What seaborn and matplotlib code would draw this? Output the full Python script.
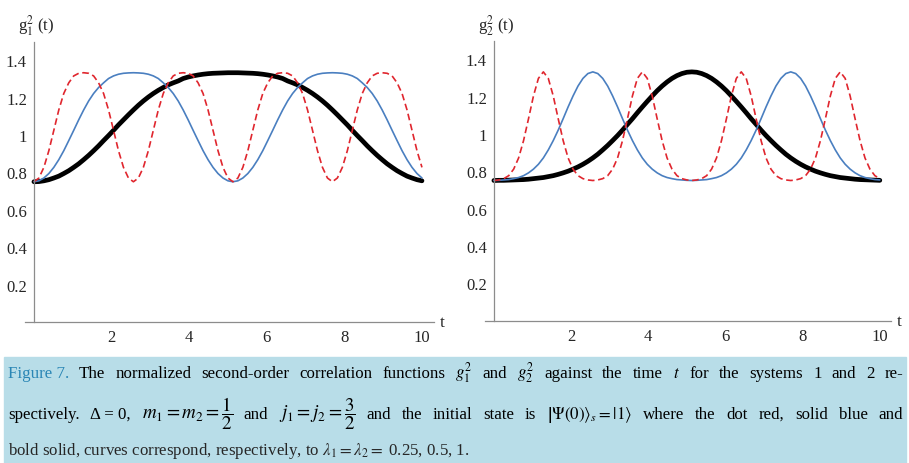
import numpy as np
import pandas as pd
import matplotlib
matplotlib.use("Agg")
import matplotlib.pyplot as plt
import seaborn as sns
from matplotlib.patches import Rectangle
from matplotlib.ticker import MultipleLocator

# time grid
t = np.linspace(0, 10, 79)

# left panel, g1^2(t)
g1_bold = [0.750, 0.751, 0.755, 0.761, 0.770, 0.780, 0.794, 0.809, 0.827, 0.846,
           0.868, 0.891, 0.916, 0.942, 0.970, 0.997, 1.025, 1.054, 1.081, 1.108,
           1.134, 1.159, 1.182, 1.203, 1.222, 1.239, 1.254, 1.268, 1.279, 1.289,
           1.302, 1.310, 1.316, 1.321, 1.325, 1.328, 1.330, 1.331, 1.332, 1.333,
           1.333,
           1.333, 1.332, 1.331, 1.330, 1.328, 1.325, 1.321, 1.316, 1.310, 1.302,
           1.289, 1.279, 1.268, 1.254, 1.239, 1.222, 1.203, 1.182, 1.159, 1.134,
           1.108, 1.081, 1.054, 1.025, 0.997, 0.970, 0.942, 0.916, 0.891, 0.868,
           0.846, 0.827, 0.809, 0.794, 0.780, 0.770, 0.761, 0.755]
g1_blue = [0.750, 0.755, 0.770, 0.794, 0.827, 0.868, 0.916, 0.970, 1.025, 1.081,
           1.134, 1.182, 1.222, 1.254, 1.279, 1.302, 1.316, 1.325, 1.330, 1.332, 1.333,
           1.332, 1.330, 1.325, 1.316, 1.302, 1.279, 1.254, 1.222, 1.182, 1.134,
           1.081, 1.025, 0.970, 0.916, 0.868, 0.827, 0.794, 0.770, 0.755, 0.750,
           0.755, 0.770, 0.794, 0.827, 0.868, 0.916, 0.970, 1.025, 1.081, 1.134,
           1.182, 1.222, 1.254, 1.279, 1.302, 1.316, 1.325, 1.330, 1.332, 1.333,
           1.332, 1.330, 1.325, 1.316, 1.302, 1.279, 1.254, 1.222, 1.182, 1.134,
           1.081, 1.025, 0.970, 0.916, 0.868, 0.827, 0.794, 0.770]
g1_red = [0.750, 0.770, 0.827, 0.916, 1.025, 1.134, 1.222, 1.279, 1.316, 1.330, 1.333,
          1.330, 1.316, 1.279, 1.222, 1.134, 1.025, 0.916, 0.827, 0.770, 0.750,
          0.770, 0.827, 0.916, 1.025, 1.134, 1.222, 1.279, 1.316, 1.330, 1.333,
          1.330, 1.316, 1.279, 1.222, 1.134, 1.025, 0.916, 0.827, 0.770, 0.750,
          0.770, 0.827, 0.916, 1.025, 1.134, 1.222, 1.279, 1.316, 1.330, 1.333,
          1.330, 1.316, 1.279, 1.222, 1.134, 1.025, 0.916, 0.827, 0.770, 0.750,
          0.770, 0.827, 0.916, 1.025, 1.134, 1.222, 1.279, 1.316, 1.330, 1.333,
          1.330, 1.316, 1.279, 1.222, 1.134, 1.025, 0.916, 0.827]

# right panel, g2^2(t)
g2_bold = [0.751, 0.752, 0.752, 0.753, 0.754, 0.755, 0.756, 0.758, 0.761, 0.764,
           0.767, 0.772, 0.777, 0.784, 0.792, 0.801, 0.812, 0.824, 0.838, 0.854,
           0.872, 0.892, 0.915, 0.939, 0.965, 0.992, 1.021, 1.052, 1.082, 1.114,
           1.145, 1.175, 1.204, 1.232, 1.257, 1.279, 1.298, 1.313, 1.324, 1.331,
           1.333,
           1.331, 1.324, 1.313, 1.298, 1.279, 1.257, 1.232, 1.204, 1.175, 1.145,
           1.114, 1.082, 1.052, 1.021, 0.992, 0.965, 0.939, 0.915, 0.892, 0.872,
           0.854, 0.838, 0.824, 0.812, 0.801, 0.792, 0.784, 0.777, 0.772, 0.767,
           0.764, 0.761, 0.758, 0.756, 0.755, 0.754, 0.753, 0.752]
g2_blue = [0.751, 0.752, 0.754, 0.756, 0.761, 0.767, 0.777, 0.792, 0.812, 0.838,
           0.872, 0.915, 0.965, 1.021, 1.082, 1.145, 1.204, 1.257, 1.298, 1.324, 1.333,
           1.324, 1.298, 1.257, 1.204, 1.145, 1.082, 1.021, 0.965, 0.915, 0.872,
           0.838, 0.812, 0.792, 0.777, 0.767, 0.761, 0.756, 0.754, 0.752, 0.751,
           0.752, 0.754, 0.756, 0.761, 0.767, 0.777, 0.792, 0.812, 0.838, 0.872,
           0.915, 0.965, 1.021, 1.082, 1.145, 1.204, 1.257, 1.298, 1.324, 1.333,
           1.324, 1.298, 1.257, 1.204, 1.145, 1.082, 1.021, 0.965, 0.915, 0.872,
           0.838, 0.812, 0.792, 0.777, 0.767, 0.761, 0.756, 0.754]
g2_red = [0.751, 0.754, 0.761, 0.777, 0.812, 0.872, 0.965, 1.082, 1.204, 1.298, 1.333,
          1.298, 1.204, 1.082, 0.965, 0.872, 0.812, 0.777, 0.761, 0.754, 0.751,
          0.754, 0.761, 0.777, 0.812, 0.872, 0.965, 1.082, 1.204, 1.298, 1.333,
          1.298, 1.204, 1.082, 0.965, 0.872, 0.812, 0.777, 0.761, 0.754, 0.751,
          0.754, 0.761, 0.777, 0.812, 0.872, 0.965, 1.082, 1.204, 1.298, 1.333,
          1.298, 1.204, 1.082, 0.965, 0.872, 0.812, 0.777, 0.761, 0.754, 0.751,
          0.754, 0.761, 0.777, 0.812, 0.872, 0.965, 1.082, 1.204, 1.298, 1.333,
          1.298, 1.204, 1.082, 0.965, 0.872, 0.812, 0.777, 0.761]

xticks = [2, 4, 6, 8, 10]
xticklabels = ["2", "4", "6", "8", "10"]
yticks = [0.2, 0.4, 0.6, 0.8, 1.0, 1.2, 1.4]
yticklabels = ["0.2", "0.4", "0.6", "0.8", "1", "1.2", "1.4"]

sns.set_style("white")
plt.rcParams['font.family'] = ['Liberation Serif', 'DejaVu Serif']
plt.rcParams['mathtext.fontset'] = 'stix'

W, H = 909, 464
fig = plt.figure(figsize=(W / 100, H / 100), dpi=100)
ax1 = fig.add_axes([25 / W, 141 / H, 408.6 / W, 280.5 / H])
ax2 = fig.add_axes([485 / W, 142.3 / H, 406.4 / W, 280 / H])

axcol = '#8c8c8c'


def panel(ax, bold, blue, red, ylab, ylab_x):
    df = pd.DataFrame({'t': t, 'bold': bold, 'blue': blue, 'red': red})
    sns.lineplot(data=df, x='t', y='bold', ax=ax, color='black', lw=3.4)
    sns.lineplot(data=df, x='t', y='blue', ax=ax, color='#4a7fc0', lw=1.2)
    sns.lineplot(data=df, x='t', y='red', ax=ax, color='#e0262e', lw=1.2,
                 linestyle=(0, (4, 2.2)))
    ax.set_xlim(-0.23, 10.3)
    ax.set_ylim(0, 1.5)
    ax.set_xlabel('')
    ax.set_ylabel('')
    for s in ['top', 'right']:
        ax.spines[s].set_visible(False)
    ax.spines['left'].set_position(('data', 0))
    for s in ['left', 'bottom']:
        ax.spines[s].set_color(axcol)
        ax.spines[s].set_linewidth(0.9)
    ax.set_xticks(xticks, xticklabels)
    ax.set_yticks(yticks, yticklabels)
    ax.xaxis.set_minor_locator(MultipleLocator(0.5))
    ax.yaxis.set_minor_locator(MultipleLocator(0.05))
    ax.tick_params(which='major', direction='in', length=5, width=0.8,
                   color=axcol, labelsize=12, pad=5)
    ax.tick_params(which='minor', direction='in', length=2.5, width=0.6,
                   color='#b0b0b0')
    ax.text(10.45, 0, 't', va='center', ha='left', fontsize=12.5, clip_on=False)
    fig.text(ylab_x / W, 1 - 26 / H, ylab, fontsize=12, va='center', ha='left')


panel(ax1, g1_bold, g1_blue, g1_red, r'g$_1^2$ (t)', 18)
panel(ax2, g2_bold, g2_blue, g2_red, r'g$_2^2$ (t)', 478)

# caption box
fig.patches.append(Rectangle((4 / W, 0), 902 / W, (H - 358) / H,
                             transform=fig.transFigure, color='#b8dde8', zorder=0))

renderer = fig.canvas.get_renderer()
cap_size = 12.2


def caption_line(chunks, base_y, x0, x1, justify=True):
    texts = []
    for s, c in chunks:
        size = cap_size * 1.12 if 'dfrac' in s else cap_size
        texts.append(fig.text(0, 1 - base_y / H, s, color=c, fontsize=size,
                              va='baseline', ha='left'))
    widths = [tx.get_window_extent(renderer).width for tx in texts]
    if justify and len(texts) > 1:
        gap = (x1 - x0 - sum(widths)) / (len(texts) - 1)
    else:
        gap = 4
    x = x0
    for tx, w in zip(texts, widths):
        tx.set_x(x / W)
        x += w + gap


k = 'black'
line1 = [("Figure 7.", '#2a86b5'), ("The", k), ("normalized", k), ("second-order", k),
         ("correlation", k), ("functions", k), (r"$g_1^2$", k), ("and", k),
         (r"$g_2^2$", k), ("against", k), ("the", k), ("time", k), (r"$t$", k),
         ("for", k), ("the", k), ("systems", k), ("1", k), ("and", k), ("2", k),
         ("re-", k)]
line2 = [("spectively.", k), ("Δ = 0,", k), (r"$m_1=m_2=\dfrac{1}{2}$", k),
         ("and", k), (r"$j_1=j_2=\dfrac{3}{2}$", k), ("and", k), ("the", k),
         ("initial", k), ("state", k), ("is", k),
         (r"$\left|\Psi\left(0\right)\right\rangle_s=\left|1\right\rangle$", k),
         ("where", k), ("the", k), ("dot", k), ("red,", k), ("solid", k),
         ("blue", k), ("and", k)]

caption_line(line1, 378, 8, 903)
caption_line(line2, 419, 8, 903)
fig.text(8 / W, 1 - 455 / H,
         r"bold solid, curves correspond, respectively, to $\lambda_1=\lambda_2=$ 0.25, 0.5, 1.",
         fontsize=cap_size, va='baseline', ha='left')

fig.savefig('out.png', dpi=100)
